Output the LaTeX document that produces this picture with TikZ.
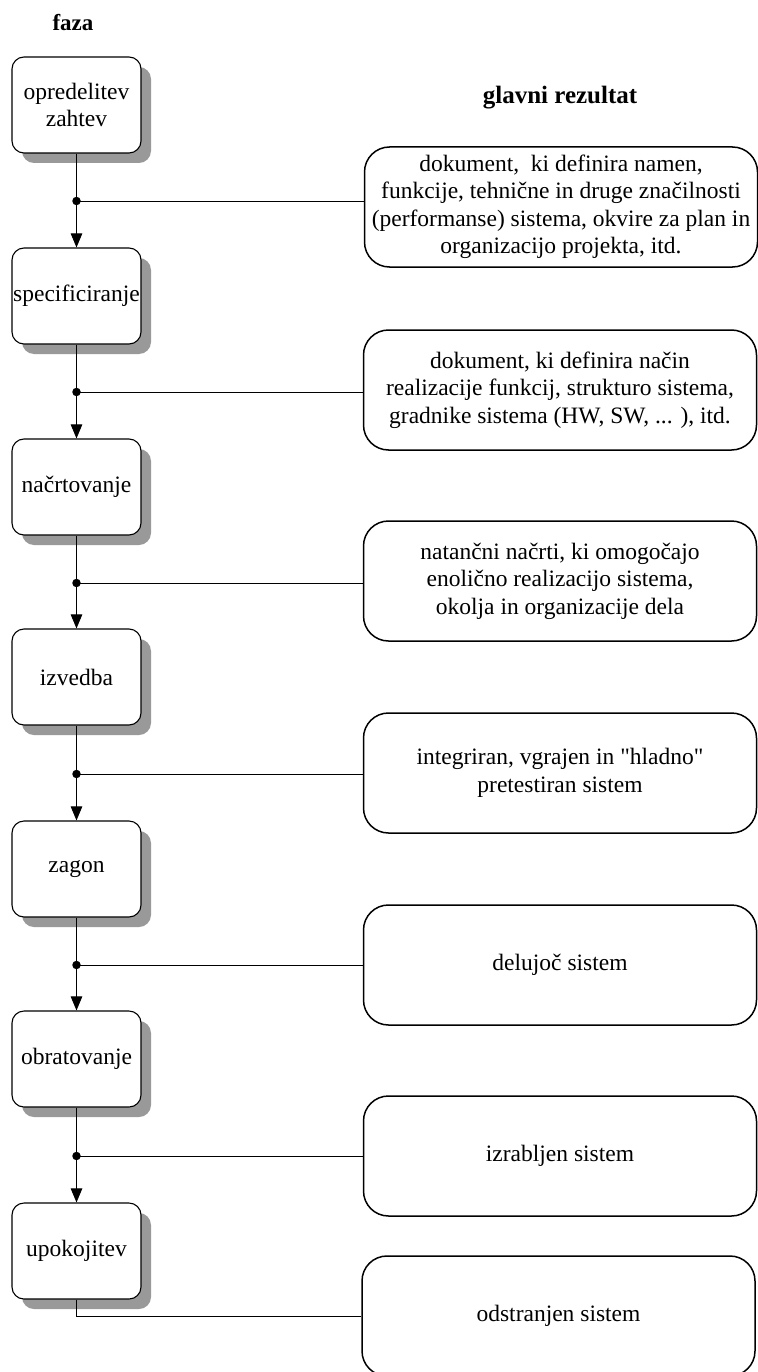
\documentclass[tikz,border=0pt]{standalone}
\usepackage{fontspec}
\setmainfont{Liberation Serif}
\usetikzlibrary{arrows.meta,shadows}

\tikzset{
  phase/.style={draw=black, line width=1.1pt, rounded corners=12pt, fill=white,
    minimum width=129pt, minimum height=96pt, inner sep=1pt, align=center,
    font=\fontsize{23.5}{26.5}\selectfont,
    drop shadow={shadow xshift=10pt, shadow yshift=-10pt, fill=black!40, opacity=1}},
  result/.style={draw=black, line width=1.5pt, rounded corners=25pt, fill=white,
    minimum width=393pt, minimum height=120pt, inner sep=1pt, align=center,
    font=\fontsize{23.5}{27.5}\selectfont},
  junction/.style={circle, fill=black, inner sep=0pt, minimum size=8.5pt},
  link/.style={line width=0.9pt},
  flow/.style={link, -{Triangle[width=11.5pt,length=14pt]}},
  heading/.style={font=\fontsize{23}{26}\selectfont\bfseries, anchor=base}
}

\begin{document}
\begin{tikzpicture}[x=1pt, y=-1pt]
\useasboundingbox (0,0) rectangle (757,1372);

% column headings
\node[heading] (hphase) at (73,31) {faza};
\node[heading, font=\fontsize{25}{28}\selectfont\bfseries] (hres) at (560,104) {glavni rezultat};

% phases
\node[phase] (f1) at (76.5,105) {opredelitev\\zahtev};
\node[phase] (f2) at (76.5,296) {specificiranje};
\node[phase] (f3) at (76.5,487) {načrtovanje};
\node[phase] (f4) at (76.5,677) {izvedba};
\node[phase] (f5) at (76.5,869) {zagon};
\node[phase] (f6) at (76.5,1059) {obratovanje};
\node[phase] (f7) at (76.5,1251) {upokojitev};

% main results
\node[result] (r1) at (561,207) {dokument,\ \ ki definira namen,\\funkcije, tehnične in druge značilnosti\\(performanse) sistema, okvire za plan in\\organizacijo projekta, itd.};
\node[result] (r2) at (560,390) {dokument, ki definira način\\realizacije funkcij, strukturo sistema,\\gradnike sistema (HW, SW, ... ), itd.};
\node[result] (r3) at (560,581) {natančni načrti, ki omogočajo\\enolično realizacijo sistema,\\okolja in organizacije dela};
\node[result] (r4) at (560,773) {integriran, vgrajen in \textquotedbl hladno\textquotedbl\\pretestiran sistem};
\node[result] (r5) at (560,965) {delujoč sistem};
\node[result] (r6) at (560,1156) {izrabljen sistem};
\node[result] (r7) at (558.5,1316) {odstranjen sistem};

% branch points
\node[junction] (d1) at (76.5,201) {};
\node[junction] (d2) at (76.5,392) {};
\node[junction] (d3) at (76.5,583) {};
\node[junction] (d4) at (76.5,774) {};
\node[junction] (d5) at (76.5,965) {};
\node[junction] (d6) at (76.5,1156) {};

% phase sequence with branches to the results
\foreach \a/\d/\b/\r in {f1/d1/f2/r1, f2/d2/f3/r2, f3/d3/f4/r3, f4/d4/f5/r4, f5/d5/f6/r5, f6/d6/f7/r6} {
  \draw[link] (\a.south) -- (\d.center);
  \draw[flow] (\d.center) -- (\b.north);
  \draw[link] (\d.center) -- (\d -| \r.west);
}
\draw[link] (f7.south) |- (r7.west);
\end{tikzpicture}
\end{document}
